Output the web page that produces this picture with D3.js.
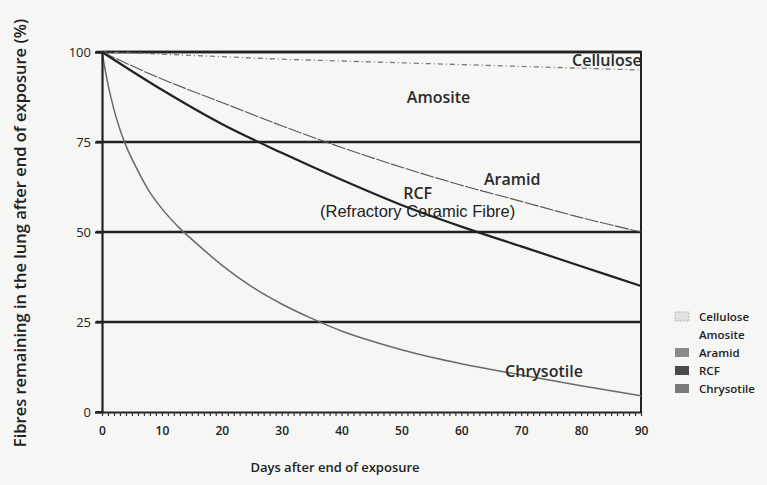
<!DOCTYPE html>
<html>
<head>
<meta charset="utf-8">
<script src="https://cdn.jsdelivr.net/npm/d3@7"></script>
<style>
  body { margin: 0; background: #f6f6f4; }
  svg { display: block; }
</style>
</head>
<body>
<div id="wrapper"></div>
<script>
// days after end of exposure
const days = [0, 10, 20, 30, 40, 50, 60, 70, 80, 90];
// chrysotile is read at finer steps because it falls so quickly at the start
const chrysoDays = [0, 1, 2, 3, 4, 6, 8, 10, 13, 16, 20, 25, 30, 35, 40, 45, 50, 55, 60, 70, 80, 90];

// % fibres remaining
const cellulose = [100, 99.4, 98.7, 98, 97.5, 97, 96.5, 96, 95.5, 95];
const amosite = [100, 100, 100, 100, 100, 100, 100, 100, 100, 100];
const aramid = [100, 92.5, 86, 79.5, 73.5, 68, 63, 58.5, 54, 50];
const rcf = [100, 89.5, 80, 72, 64.5, 57.5, 51.5, 46, 40.5, 35];
const chrysotile = [100, 91, 84, 78.5, 74, 67, 61, 56.5, 51, 46.5, 40.8, 34.8, 30, 26, 22.5, 19.7, 17.3, 15.2, 13.4, 10.3, 7.3, 4.5];

const yTicks = [0, 25, 50, 75, 100];
const xTicks = [0, 10, 20, 30, 40, 50, 60, 70, 80, 90];
const legendNames = ["Cellulose", "Amosite", "Aramid", "RCF", "Chrysotile"];

const sans = "'Open Sans', 'DejaVu Sans', sans-serif"

let dimensions = {
  width: 767,
  height: 485,
  margin: { top: 52, right: 126, bottom: 73, left: 102 },
}
dimensions.boundedWidth = dimensions.width - dimensions.margin.left - dimensions.margin.right
dimensions.boundedHeight = dimensions.height - dimensions.margin.top - dimensions.margin.bottom

const wrapper = d3.select("#wrapper")
  .append("svg")
    .attr("width", dimensions.width)
    .attr("height", dimensions.height)
    .style("font-family", sans)

const bounds = wrapper.append("g")
  .attr("transform", `translate(${dimensions.margin.left},${dimensions.margin.top})`)

const xScale = d3.scaleLinear()
  .domain([0, 90])
  .range([0, dimensions.boundedWidth])

const yScale = d3.scaleLinear()
  .domain([0, 100])
  .range([dimensions.boundedHeight, 0])

// heavy horizontal rules at every y tick
bounds.selectAll(".rule")
  .data(yTicks.filter(d => d > 0))
  .join("line")
    .attr("x1", -6)
    .attr("x2", dimensions.boundedWidth + 1)
    .attr("y1", d => yScale(d))
    .attr("y2", d => yScale(d))
    .attr("stroke", "#222")
    .attr("stroke-width", 2.4)

// right edge
bounds.append("line")
  .attr("x1", dimensions.boundedWidth)
  .attr("x2", dimensions.boundedWidth)
  .attr("y1", yScale(100))
  .attr("y2", yScale(0))
  .attr("stroke", "#222")
  .attr("stroke-width", 2)

// curves
const line = (xs) => d3.line()
  .x((d, i) => xScale(xs[i]))
  .y(d => yScale(d))
  .curve(d3.curveMonotoneX)

bounds.append("path")
  .attr("d", line(days)(amosite))
  .attr("fill", "none")
  .attr("stroke", "#222")
  .attr("stroke-width", 2.4)

bounds.append("path")
  .attr("d", line(days)(cellulose))
  .attr("fill", "none")
  .attr("stroke", "#777")
  .attr("stroke-width", 1.3)
  .attr("stroke-dasharray", "5,3,1,3")

bounds.append("path")
  .attr("d", line(days)(aramid))
  .attr("fill", "none")
  .attr("stroke", "#555")
  .attr("stroke-width", 1.1)
  .attr("stroke-dasharray", "14,1.5")

bounds.append("path")
  .attr("d", line(days)(rcf))
  .attr("fill", "none")
  .attr("stroke", "#222")
  .attr("stroke-width", 2.2)

bounds.append("path")
  .attr("d", line(chrysoDays)(chrysotile))
  .attr("fill", "none")
  .attr("stroke", "#6a6a6a")
  .attr("stroke-width", 1.5)

// y axis
const yAxis = bounds.append("g")
  .call(d3.axisLeft(yScale).tickValues(yTicks).tickSize(7).tickPadding(4))
yAxis.select(".domain").attr("stroke", "#222").attr("stroke-width", 2.2)
yAxis.selectAll(".tick line").attr("stroke", "#222").attr("stroke-width", 2)
yAxis.selectAll(".tick text")
  .attr("font-size", 13)
  .attr("font-family", sans)
  .attr("fill", "#222")

// x axis: one small tick per day, labels every 10
const xAxis = bounds.append("g")
  .attr("transform", `translate(0,${dimensions.boundedHeight})`)
  .call(d3.axisBottom(xScale).tickValues(d3.range(0, 91)).tickSize(4).tickSizeOuter(0).tickFormat(d => xTicks.includes(d) ? d : ""))
xAxis.select(".domain").attr("stroke", "#222").attr("stroke-width", 2.2)
xAxis.selectAll(".tick line").attr("stroke", "#333").attr("stroke-width", 1.2)
xAxis.selectAll(".tick text")
  .attr("font-size", 12)
  .attr("dy", "1.3em")
  .attr("font-family", sans)
  .attr("font-weight", 600)
  .attr("fill", "#222")
// the left axis also pokes a short tick below 0
xAxis.append("line")
  .attr("x1", -6).attr("x2", 0).attr("y1", 0).attr("y2", 0)
  .attr("stroke", "#222").attr("stroke-width", 2)

// in-plot labels
const labels = [
  { t: "Cellulose", d: 84.3, v: 96.0 },
  { t: "Amosite", d: 56.2, v: 85.8 },
  { t: "Aramid", d: 68.5, v: 63.0 },
  { t: "RCF", d: 52.7, v: 59.3 },
  { t: "Chrysotile", d: 73.8, v: 9.8 },
]
bounds.selectAll(".lab")
  .data(labels)
  .join("text")
    .attr("x", d => xScale(d.d))
    .attr("y", d => yScale(d.v))
    .attr("text-anchor", "middle")
    .attr("font-size", 16)
    .attr("font-weight", 600)
    .attr("fill", "#2a2a2a")
    .text(d => d.t)

bounds.append("text")
  .attr("x", xScale(52.7))
  .attr("y", yScale(54.2))
  .attr("text-anchor", "middle")
  .style("font-family", "'Liberation Sans', Arial, sans-serif")
  .attr("font-size", 16.5)
  .attr("fill", "#222")
  .text("(Refractory Ceramic Fibre)")

// axis titles
wrapper.append("text")
  .attr("transform", `translate(26,${dimensions.margin.top + dimensions.boundedHeight / 2 + 1}) rotate(-90)`)
  .attr("text-anchor", "middle")
  .attr("font-size", 16.5)
  .attr("font-weight", 600)
  .attr("fill", "#222")
  .text("Fibres remaining in the lung after end of exposure (%)")

wrapper.append("text")
  .attr("x", 335)
  .attr("y", 472)
  .attr("text-anchor", "middle")
  .attr("font-size", 13)
  .attr("font-weight", 600)
  .attr("fill", "#222")
  .text("Days after end of exposure")

// legend
const swatch = { Cellulose: "#e2e2e0", Amosite: "none", Aramid: "#8a8a8a", RCF: "#4a4a4a", Chrysotile: "#7a7a7a" }
const legend = wrapper.append("g")
  .attr("transform", "translate(675,312)")
const rows = legend.selectAll("g")
  .data(legendNames)
  .join("g")
    .attr("transform", (d, i) => `translate(0,${i * 18})`)
rows.append("rect")
  .attr("width", 14)
  .attr("height", 9)
  .attr("fill", d => swatch[d])
  .attr("stroke", d => d === "Cellulose" ? "#bbb" : "none")
  .attr("stroke-dasharray", "2,1")
rows.append("text")
  .attr("x", 24)
  .attr("y", 9)
  .attr("font-size", 11.5)
  .attr("font-weight", 600)
  .attr("fill", "#222")
  .text(d => d)
</script>
</body>
</html>
